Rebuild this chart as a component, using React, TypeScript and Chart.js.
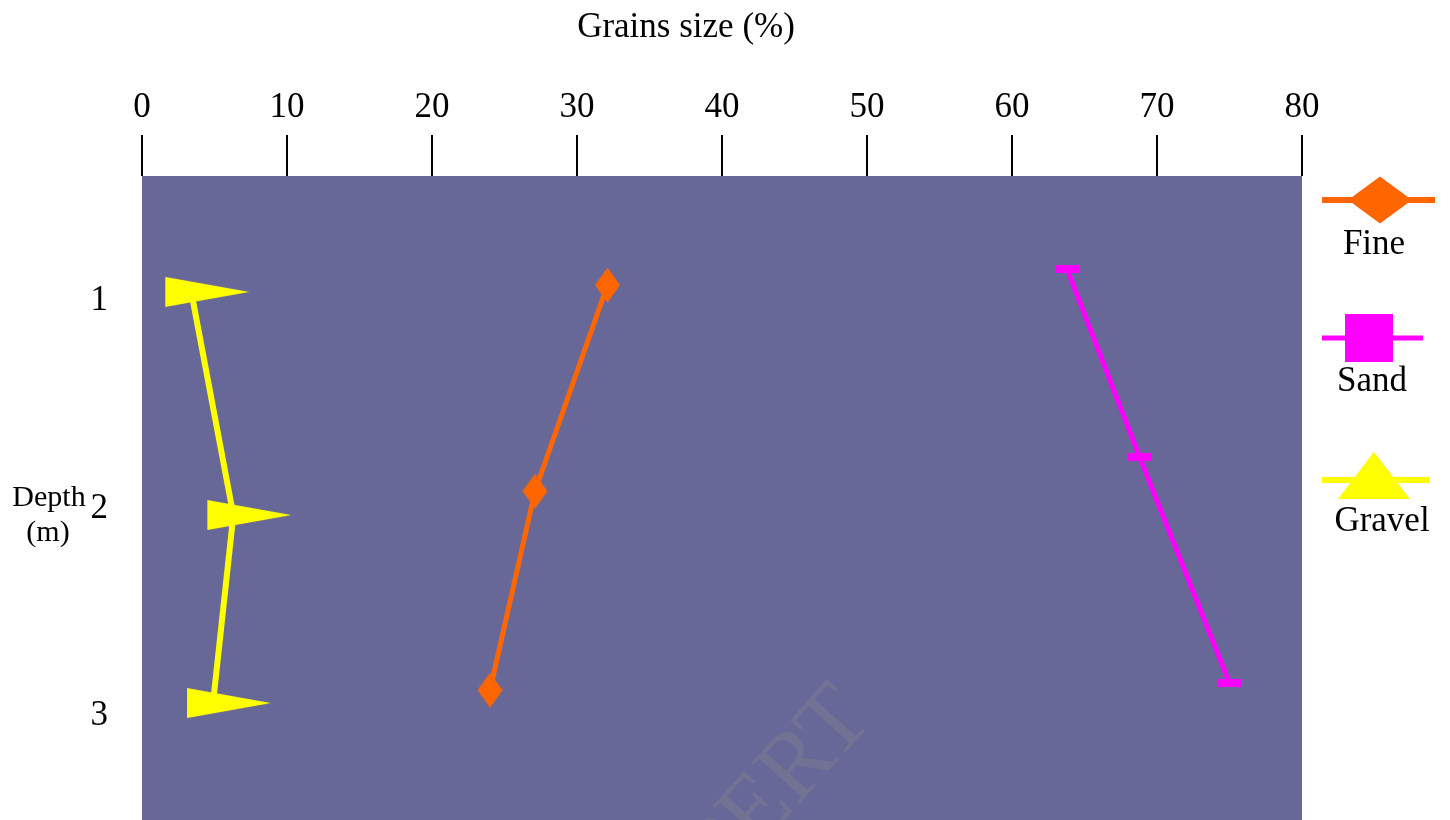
import React, { useEffect, useRef } from 'react';
import { Chart, registerables } from 'chart.js';

Chart.register(...registerables);

// ---- data ----
const xTickValues = [0, 10, 20, 30, 40, 50, 60, 70, 80];
const depthTicks = [1, 2, 3];
const seriesNames = ['Fine', 'Sand', 'Gravel'];
const fineGrain = [32.1, 27.1, 24.0];
const fineDepth = [0.925, 1.917, 2.875];
const sandGrain = [63.8, 68.8, 75.0];
const sandDepth = [0.848, 1.753, 2.841];
const gravelGrain = [3.4, 6.3, 4.9];
const gravelDepth = [0.958, 2.032, 2.937];
const xTitle = 'Grains size (%)';
const yTitleLines = ['Depth', '(m)'];
const watermark = 'EXPERT';

const SERIF = "'Liberation Serif', 'Times New Roman', serif";
const FINE = '#ff6600';
const SAND = '#ff00ff';
const GRAVEL = '#ffff00';
const PLOT_BG = '#676898';

function makeCanvas(w: number, h: number, draw: (c: CanvasRenderingContext2D) => void) {
  const cv = document.createElement('canvas');
  cv.width = w;
  cv.height = h;
  const c = cv.getContext('2d')!;
  draw(c);
  return cv;
}

export default function App() {
  const ref = useRef<HTMLCanvasElement>(null);

  useEffect(() => {
    const canvas = ref.current!;

    const diamondImg = makeCanvas(25, 35, (c) => {
      c.fillStyle = FINE;
      c.beginPath();
      c.moveTo(12.5, 0);
      c.lineTo(25, 17.5);
      c.lineTo(12.5, 35);
      c.lineTo(0, 17.5);
      c.closePath();
      c.fill();
    });
    const barImg = makeCanvas(23, 8, (c) => {
      c.fillStyle = SAND;
      c.fillRect(0, 0, 23, 8);
    });
    const flagImg = makeCanvas(116, 30, (c) => {
      c.fillStyle = GRAVEL;
      c.beginPath();
      c.moveTo(32, 0);
      c.lineTo(116, 15);
      c.lineTo(32, 30);
      c.closePath();
      c.fill();
    });

    const zip = (xs: number[], ys: number[]) => xs.map((x, i) => ({ x, y: ys[i] }));

    const bgPlugin = {
      id: 'bgAndDecor',
      beforeDraw(chart: any) {
        const { ctx, chartArea: a } = chart;
        ctx.save();
        ctx.fillStyle = PLOT_BG;
        ctx.fillRect(a.left, a.top, a.right - a.left, a.bottom - a.top);
        ctx.restore();
      },
      beforeDatasetsDraw(chart: any) {
        const { ctx, chartArea: a } = chart;
        ctx.save();
        ctx.beginPath();
        ctx.rect(a.left, a.top, a.right - a.left, a.bottom - a.top);
        ctx.clip();
        ctx.translate(856, 703);
        ctx.rotate((-48 * Math.PI) / 180);
        ctx.font = `96px ${SERIF}`;
        ctx.textAlign = 'right';
        ctx.textBaseline = 'middle';
        ctx.fillStyle = 'rgba(140,140,140,0.3)';
        ctx.fillText(watermark, 0, 0);
        ctx.restore();
      },
      afterDraw(chart: any) {
        const { ctx } = chart;
        ctx.save();
        ctx.fillStyle = '#000';
        ctx.textAlign = 'center';
        ctx.textBaseline = 'middle';
        // x title
        ctx.font = `35px ${SERIF}`;
        ctx.fillText(xTitle, 686, 28);
        // y title (horizontal, two lines)
        ctx.font = `30px ${SERIF}`;
        ctx.fillText(yTitleLines[0], 49, 498);
        ctx.fillText(yTitleLines[1], 48, 533);

        // legend
        const colors = [FINE, SAND, GRAVEL];
        const rows = [
          { lineY: 200, x0: 1322, x1: 1435, lw: 6, labelX: 1374, labelY: 245 },
          { lineY: 338, x0: 1322, x1: 1423, lw: 5, labelX: 1372, labelY: 382 },
          { lineY: 480, x0: 1322, x1: 1429, lw: 6, labelX: 1382, labelY: 522 },
        ];
        rows.forEach((r, i) => {
          ctx.strokeStyle = colors[i];
          ctx.fillStyle = colors[i];
          ctx.lineWidth = r.lw;
          ctx.beginPath();
          ctx.moveTo(r.x0, r.lineY);
          ctx.lineTo(r.x1, r.lineY);
          ctx.stroke();
          ctx.beginPath();
          if (i === 0) {
            ctx.moveTo(1380, r.lineY - 23.5);
            ctx.lineTo(1412, r.lineY);
            ctx.lineTo(1380, r.lineY + 23.5);
            ctx.lineTo(1348, r.lineY);
            ctx.closePath();
            ctx.fill();
          } else if (i === 1) {
            ctx.fillRect(1345, 314, 48, 48);
          } else {
            ctx.moveTo(1374, 452);
            ctx.lineTo(1410, 499);
            ctx.lineTo(1338, 499);
            ctx.closePath();
            ctx.fill();
          }
          ctx.fillStyle = '#000';
          ctx.font = `35px ${SERIF}`;
          ctx.textAlign = 'center';
          ctx.textBaseline = 'middle';
          ctx.fillText(seriesNames[i], r.labelX, r.labelY);
        });
        ctx.restore();
      },
    };

    const chart = new Chart(canvas, {
      type: 'line',
      data: {
        datasets: [
          {
            label: seriesNames[0],
            data: zip(fineGrain, fineDepth),
            borderColor: FINE,
            backgroundColor: FINE,
            borderWidth: 5,
            pointStyle: diamondImg as any,
            pointRadius: 12,
          },
          {
            label: seriesNames[1],
            data: zip(sandGrain, sandDepth),
            borderColor: SAND,
            backgroundColor: SAND,
            borderWidth: 5,
            pointStyle: barImg as any,
            pointRadius: 12,
          },
          {
            label: seriesNames[2],
            data: zip(gravelGrain, gravelDepth),
            borderColor: GRAVEL,
            backgroundColor: GRAVEL,
            borderWidth: 6,
            pointStyle: flagImg as any,
            pointRadius: 15,
          },
        ],
      },
      options: {
        responsive: false,
        animation: false,
        events: [],
        layout: { autoPadding: false, padding: { left: 0, right: 148, top: 0, bottom: 0 } },
        plugins: {
          legend: { display: false },
          tooltip: { enabled: false },
          title: { display: false },
        },
        scales: {
          x: {
            type: 'linear',
            position: 'top',
            min: 0,
            max: 80,
            afterBuildTicks: (s: any) => {
              s.ticks = xTickValues.map((v) => ({ value: v }));
            },
            afterFit: (s: any) => {
              s.height = 176;
              s.paddingLeft = 0;
              s.paddingRight = 0;
            },
            grid: {
              display: true,
              drawOnChartArea: false,
              drawTicks: true,
              tickLength: 41,
              color: '#000',
              lineWidth: 2,
            },
            border: { display: false },
            ticks: {
              color: '#000',
              font: { family: SERIF, size: 35 },
              padding: 6,
              maxRotation: 0,
              autoSkip: false,
            },
            title: { display: false },
          },
          y: {
            type: 'linear',
            reverse: true,
            min: 0.4,
            max: 3.5,
            afterBuildTicks: (s: any) => {
              s.ticks = depthTicks.map((v) => ({ value: v }));
            },
            afterFit: (s: any) => {
              s.width = 142;
              s.paddingTop = 0;
              s.paddingBottom = 0;
            },
            grid: { display: false, drawTicks: false },
            border: { display: false },
            ticks: {
              color: '#000',
              font: { family: SERIF, size: 35 },
              padding: 34,
              autoSkip: false,
            },
          },
        },
      },
      plugins: [bgPlugin],
    } as any);

    return () => chart.destroy();
  }, []);

  return (
    <div style={{ position: 'fixed', left: 0, top: 0, width: 1450, height: 820, background: '#fff' }}>
      <canvas ref={ref} width={1450} height={820} style={{ display: 'block' }} />
    </div>
  );
}
